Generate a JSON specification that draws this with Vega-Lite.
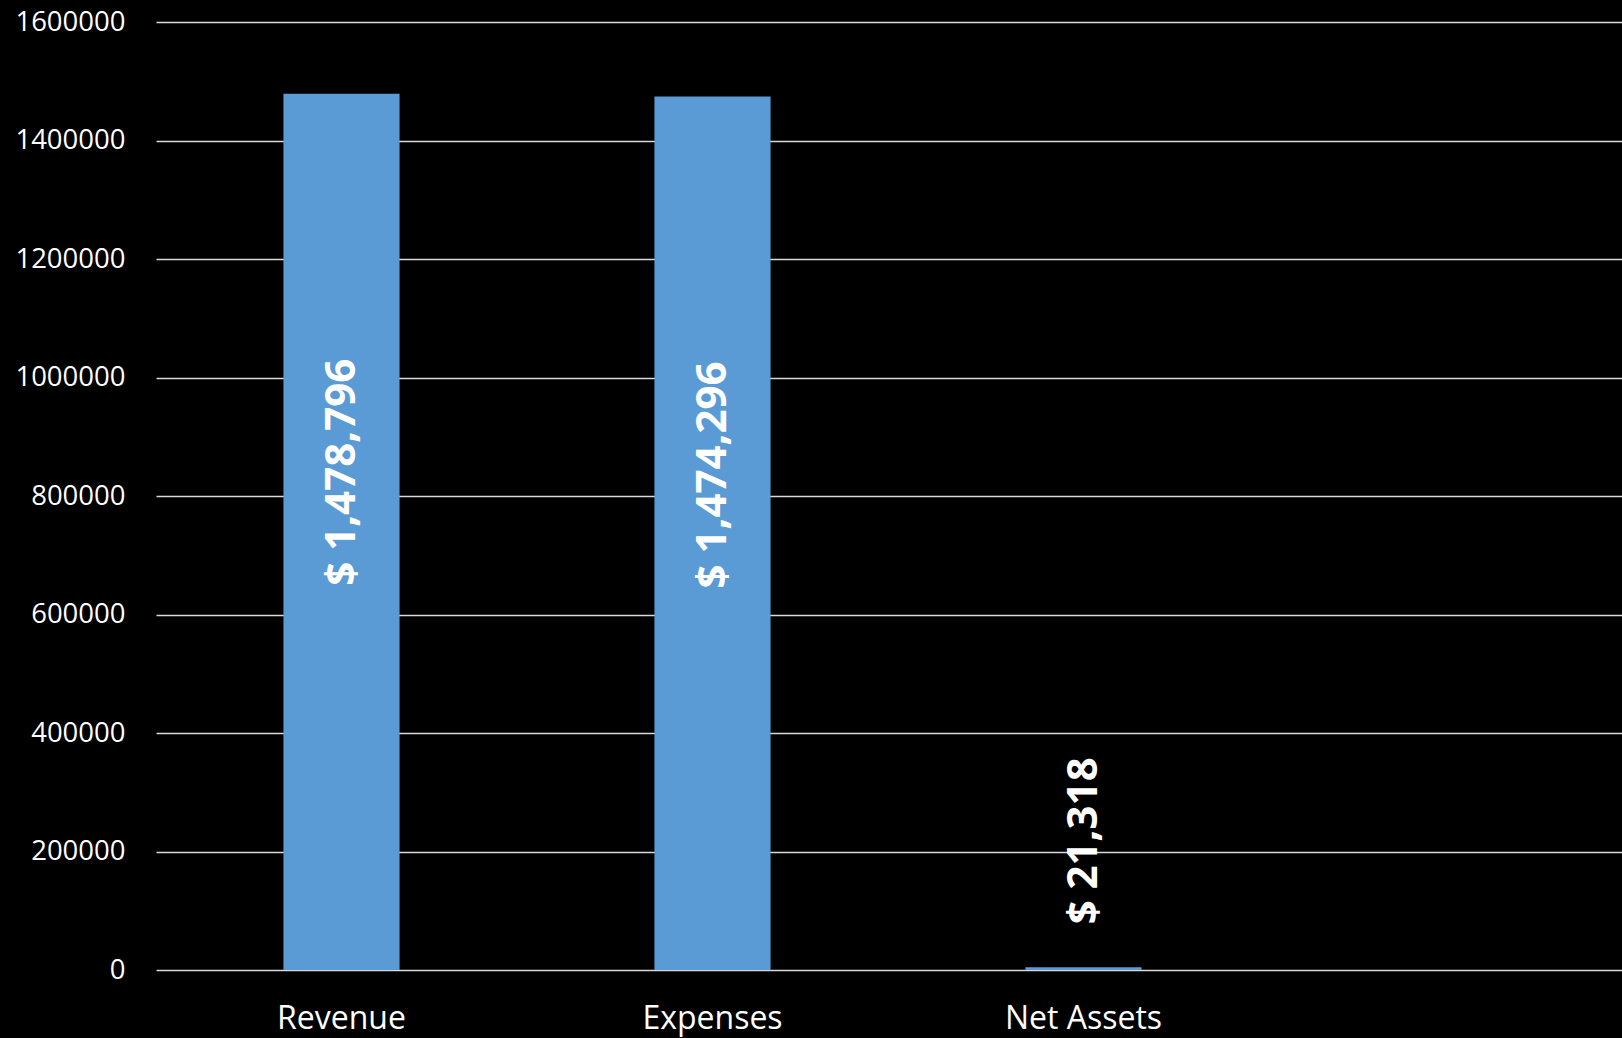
{
  "$schema": "https://vega.github.io/schema/vega-lite/v6.json",
  "autosize": "none",
  "width": 1466,
  "height": 948,
  "padding": {"left": 156, "top": 22, "right": 0, "bottom": 68},
  "background": "#000000",
  "config": {"view": {"stroke": null}, "font": "Open Sans"},
  "data": {"values": [
    {"category": "Revenue", "value": 1478796, "label": "$ 1,478,796"},
    {"category": "Expenses", "value": 1474296, "label": "$ 1,474,296"},
    {"category": "Net Assets", "value": 4500, "label": "$ 21,318"}
  ]},
  "encoding": {
    "x": {
      "field": "category", "type": "nominal", "sort": null,
      "scale": {"domain": ["Revenue", "Expenses", "Net Assets", " "], "range": [0, 1484], "paddingInner": 0, "paddingOuter": 0},
      "axis": {"title": null, "labelAngle": 0, "ticks": false, "domain": false, "labelColor": "#ffffff", "labelFont": "Open Sans", "labelFontSize": 32, "labelPadding": 33, "grid": false}
    },
    "y": {
      "field": "value", "type": "quantitative",
      "scale": {"domain": [0, 1600000], "nice": false},
      "axis": {"title": null, "values": [0, 200000, 400000, 600000, 800000, 1000000, 1200000, 1400000, 1600000], "format": "d", "ticks": false, "domain": false, "labelColor": "#ffffff", "labelFont": "Open Sans", "labelFontSize": 27.5, "labelPadding": 31, "gridColor": "#d9d9d9", "gridWidth": 1.5, "gridOpacity": 1}
    }
  },
  "layer": [
    {"mark": {"type": "bar", "color": "#5b9bd5", "width": {"band": 0.313}}},
    {
      "transform": [{"filter": "datum.value > 100000"}],
      "mark": {"type": "text", "angle": 270, "align": "right", "baseline": "middle", "dx": -265, "color": "#ffffff", "font": "Open Sans", "fontWeight": "bold", "fontSize": 42},
      "encoding": {"text": {"field": "label"}}
    },
    {
      "transform": [{"filter": "datum.value <= 100000"}],
      "mark": {"type": "text", "angle": 270, "align": "left", "baseline": "middle", "dx": 43, "color": "#ffffff", "font": "Open Sans", "fontWeight": "bold", "fontSize": 42},
      "encoding": {"text": {"field": "label"}}
    }
  ]
}
